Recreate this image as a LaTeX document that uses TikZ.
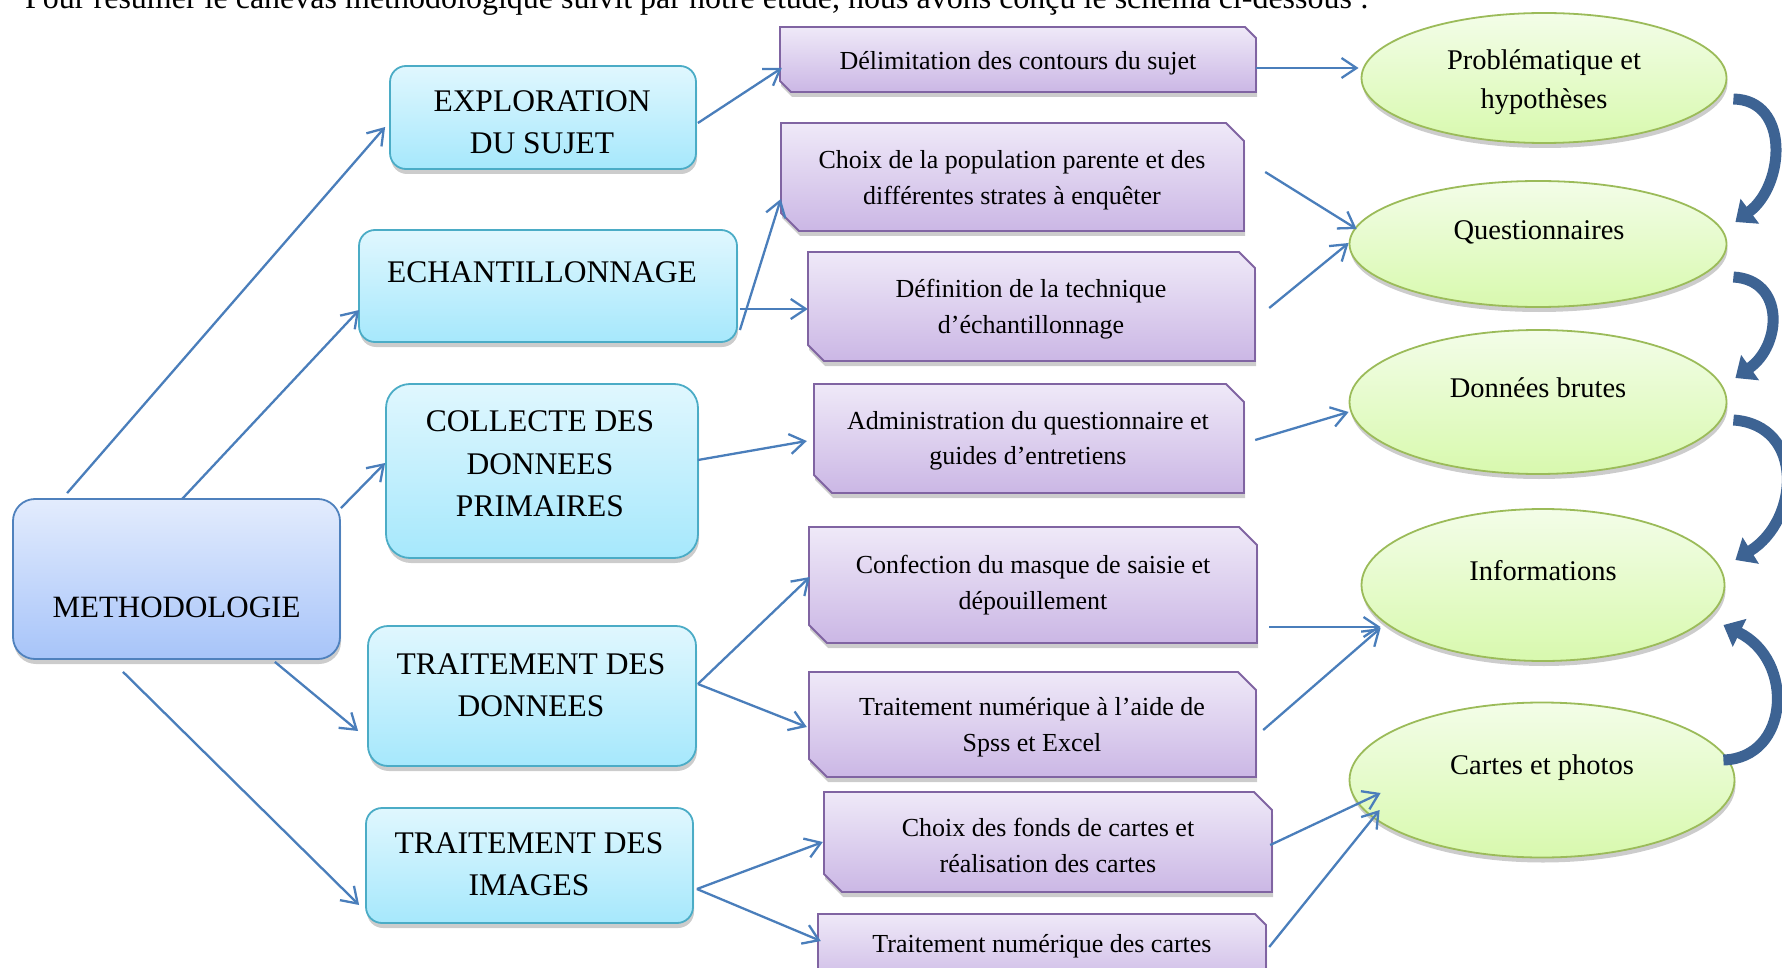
\documentclass[tikz,border=0pt]{standalone}
\usepackage{fontspec}
\setmainfont{Liberation Serif}
\usetikzlibrary{shapes.geometric,arrows.meta,shadows,calc}
\definecolor{cyanline}{HTML}{4BACC6}
\definecolor{cyantop}{HTML}{E0F7FE}
\definecolor{cyanbot}{HTML}{A6E8FC}
\definecolor{blueline}{HTML}{4F81BD}
\definecolor{bluetop}{HTML}{E3ECFD}
\definecolor{bluebot}{HTML}{A7C4F9}
\definecolor{purpline}{HTML}{8064A2}
\definecolor{purptop}{HTML}{EFE9F8}
\definecolor{purpbot}{HTML}{CBB7E5}
\definecolor{greenline}{HTML}{9BBB59}
\definecolor{greentop}{HTML}{F3FDE8}
\definecolor{greenbot}{HTML}{D8F9AE}
\definecolor{connc}{HTML}{4A7EBB}
\definecolor{bigarrow}{HTML}{3D6393}
\newcommand\pbx[6]{%
  \path[pfill] (#2,#3) -- ({#4-#6},#3) -- (#4,{#3+#6}) -- (#4,#5) -- ({#2+#6},#5) -- (#2,{#5-#6}) -- cycle;
  \node[inner sep=0pt, minimum width={#4-#2}, minimum height={#5-#3}] (#1) at ({(#2+#4)/2},{(#3+#5)/2}) {};}
\begin{document}
\begin{tikzpicture}[x=1pt,y=-1pt,
  sh/.style={drop shadow={shadow xshift=1pt, shadow yshift=-5pt, opacity=0.2, fill=black}},
  mbox/.style={draw=blueline, line width=1.8pt, rounded corners=22pt, top color=bluetop, bottom color=bluebot, sh, inner sep=0pt},
  cbox/.style={draw=cyanline, line width=1.8pt, rounded corners=16pt, top color=cyantop, bottom color=cyanbot, sh, inner sep=0pt},
  pfill/.style={draw=purpline, line width=1.8pt, top color=purptop, bottom color=purpbot, sh},
  gell/.style={ellipse, draw=greenline, line width=1.8pt, top color=greentop, bottom color=greenbot, sh, inner sep=0pt},
  ctext/.style={align=center, inner sep=0pt, font=\fontsize{31.5}{42.5}\selectfont},
  ptext/.style={align=center, inner sep=0pt, font=\fontsize{26}{35.5}\selectfont},
  gtext/.style={align=center, inner sep=0pt, font=\fontsize{28.5}{39}\selectfont},
  link/.style={draw=connc, line width=2.3pt, -{Straight Barb[length=15pt,width=20pt]}},
  bigarr/.style={draw=bigarrow, line width=11pt, -{Triangle[length=18pt,width=30pt]}}
]
\path[use as bounding box] (0,0) rectangle (1782,968);
\begin{scope}
\clip (0,0) rectangle (1782,968);
\node[anchor=base west, inner sep=0pt, font=\fontsize{32}{36}\selectfont] (intro) at (25,9) {Pour résumer le canevas méthodologique suivit par notre étude, nous avons conçu le schéma ci-dessous :};

% left blue box
\node[mbox, minimum width=327, minimum height=160] (meth) at (176.5,579) {};
\node[inner sep=0pt, font=\fontsize{31}{36}\selectfont] (methT) at (176.5,607) {METHODOLOGIE};

% cyan boxes
\node[cbox, minimum width=306, minimum height=103] (expl) at (543,117.5) {};
\node[ctext] (explT) at (542,122) {EXPLORATION\\DU SUJET};
\node[cbox, minimum width=378, minimum height=112] (echant) at (548,286) {};
\node[ctext] (echantT) at (542,272) {ECHANTILLONNAGE};
\node[cbox, rounded corners=24pt, minimum width=312, minimum height=174] (coll) at (542,471) {};
\node[ctext] (collT) at (540,464) {COLLECTE DES\\DONNEES\\PRIMAIRES};
\node[cbox, rounded corners=20pt, minimum width=328, minimum height=140] (tdon) at (532,696) {};
\node[ctext] (tdonT) at (531,685) {TRAITEMENT DES\\DONNEES};
\node[cbox, minimum width=327, minimum height=115] (timg) at (529.5,865.5) {};
\node[ctext] (timgT) at (529,864) {TRAITEMENT DES\\IMAGES};

% purple boxes
\pbx{delim}{780}{27}{1256}{92}{11}
\node[ptext] (delimT) at (1018,63.5) {Délimitation des contours du sujet};
\pbx{choixpop}{781}{123}{1244}{231}{18}
\node[ptext] (choixpopT) at (1012,180) {Choix de la population parente et des\\différentes strates à enquêter};
\pbx{defin}{808}{252}{1255}{361}{16}
\node[ptext] (definT) at (1031,309) {Définition de la technique\\d’échantillonnage};
\pbx{admin}{814}{384}{1244}{493}{18}
\node[ptext] (adminT) at (1028,441) {Administration du questionnaire et\\guides d’entretiens};
\pbx{conf}{809}{527}{1257}{643}{18}
\node[ptext] (confT) at (1033,585) {Confection du masque de saisie et\\dépouillement};
\pbx{tnum}{809}{672}{1256}{777}{18}
\node[ptext] (tnumT) at (1032,727) {Traitement numérique à l’aide de\\Spss et Excel};
\pbx{fonds}{824}{792}{1272}{892}{18}
\node[ptext] (fondsT) at (1048,845.5) {Choix des fonds de cartes et\\réalisation des cartes};
\pbx{cartes}{818}{914}{1266}{990}{11}
\node[ptext] (cartesT) at (1042,946.5) {Traitement numérique des cartes};

% green ellipses
\node[gell, minimum width=365, minimum height=130] (prob) at (1544,78) {};
\node[gtext] (probT) at (1544,82) {Problématique et\\hypothèses};
\node[gell, minimum width=377, minimum height=126] (quest) at (1538,244) {};
\node[gtext] (questT) at (1539,232) {Questionnaires};
\node[gell, minimum width=377, minimum height=144] (donnees) at (1538,402) {};
\node[gtext] (donneesT) at (1538,388) {Données brutes};
\node[gell, minimum width=363, minimum height=152] (info) at (1543,585) {};
\node[gtext] (infoT) at (1543,571) {Informations};
\node[gell, minimum width=385, minimum height=155] (cphot) at (1542,780) {};
\node[gtext] (cphotT) at (1542,768) {Cartes et photos};

% thin connectors, left part
\draw[link] ($(meth.north west)+(55,-5)$) -- ($(expl.west)+(-4,9.5)$);
\draw[link] ($(meth.north)+(5.5,1)$) -- ($(echant.west)+(1,24)$);
\draw[link] ($(meth.north east)+(0,10)$) -- ($(coll.west)+(0,-8)$);
\draw[link] ($(meth.south east)+(-66,2)$) -- ($(tdon.west)+(-9,35)$);
\draw[link] ($(meth.south)+(-53.5,12)$) -- ($(timg.west)+(-6,39.5)$);
% middle
\draw[link] ($(expl.east)+(1,5.5)$) -- ($(delim.west)+(2,8.5)$);
\draw[link] ($(echant.east)+(2,44)$) -- ($(choixpop.west)+(0,22)$);
\draw[link] ($(echant.east)+(2,23)$) -- ($(defin.west)+(0,2.5)$);
\draw[link] ($(coll.east)+(-1,-11)$) -- ($(admin.west)+(-7,2.5)$);
\draw[link] ($(tdon.east)+(1,-12)$) -- ($(conf.west)+(1,-8)$);
\draw[link] ($(tdon.east)+(1,-12)$) -- ($(tnum.west)+(-2,2.5)$);
\draw[link] ($(timg.east)+(3,23.5)$) -- ($(fonds.west)+(-1,0)$);
\draw[link] ($(timg.east)+(3,23.5)$) -- ($(cartes.west)+(3,-11)$);
% right
\draw[link] ($(delim.east)+(0,8.5)$) -- ($(prob.west)+(-2,-10)$);
\draw[link] ($(choixpop.east)+(21,-5)$) -- ($(quest.west)+(8,-15)$);
\draw[link] ($(defin.east)+(14,1.5)$) -- ($(quest.west)+(0,-1)$);
\draw[link] ($(admin.east)+(11,1.5)$) -- ($(donnees.west)+(0,10)$);
\draw[link] ($(conf.east)+(12,42)$) -- ($(info.west)+(20,42)$);
\draw[link] ($(tnum.east)+(7,5.5)$) -- ($(info.west)+(20,43)$);
\draw[link] ($(fonds.east)+(-2,3)$) -- ($(cphot.west)+(32,13)$);
\draw[link] ($(cartes.east)+(3,-5)$) -- ($(cphot.west)+(31,30)$);

% big curved arrows
\coordinate (b1s) at ($(prob.east)+(6,21)$);
\coordinate (b1e) at ($(quest.east)+(8,-22)$);
\draw[bigarr] (b1s) .. controls (1790,100) and (1785,185) .. (b1e);
\coordinate (b2s) at ($(quest.east)+(6,33)$);
\coordinate (b2e) at ($(donnees.east)+(8,-24)$);
\draw[bigarr] (b2s) .. controls (1785,280) and (1782,345) .. (b2e);
\coordinate (b3s) at ($(donnees.east)+(6,18)$);
\coordinate (b3e) at ($(info.east)+(10,-25)$);
\draw[bigarr] (b3s) .. controls (1805,425) and (1800,520) .. (b3e);
\coordinate (b4s) at ($(cphot.east)+(-12,-20)$);
\coordinate (b4e) at ($(info.east)+(-2,40)$);
\draw[bigarr] (b4s) .. controls (1790,758) and (1795,660) .. (b4e);
\end{scope}
\end{tikzpicture}
\end{document}
